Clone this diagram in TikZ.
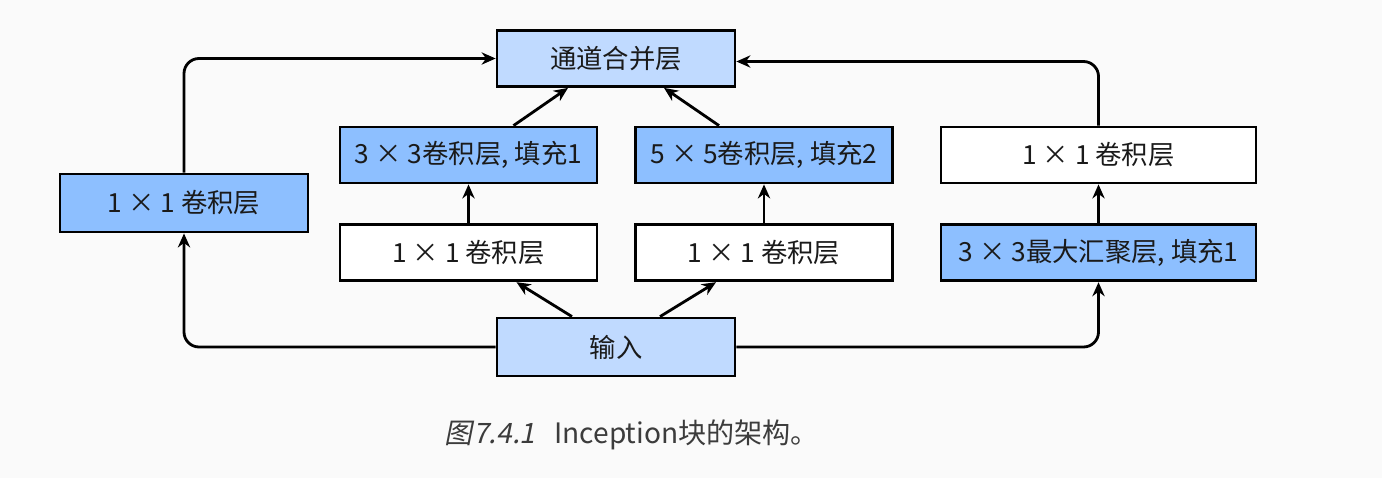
\documentclass[tikz,border=0pt]{standalone}
\usepackage{fontspec}
\setmainfont{Noto Sans CJK SC}
\newfontfamily\capit[FakeSlant=0.2]{Noto Sans CJK SC}
\usepackage{tikz}
\usetikzlibrary{arrows.meta,positioning,calc}
\definecolor{paleblue}{HTML}{C0DAFF}
\definecolor{midblue}{HTML}{8DBFFF}
\definecolor{bgwhite}{HTML}{FAFAFA}
\definecolor{inkgray}{HTML}{1A1A1A}

\begin{document}
\begin{tikzpicture}[x=0.02cm, y=0.02cm, node distance=0.8cm,
  box/.style={rectangle, draw=black, line width=1.6pt, minimum height=1.12cm, align=center, font=\fontsize{15}{17}\selectfont, text=inkgray},
  catbox/.style={box, fill=paleblue, minimum width=4.76cm},
  convbox/.style={box, fill=midblue, minimum width=5.14cm},
  plainbox/.style={box, fill=white, minimum width=5.14cm},
  arrow/.style={-{Stealth[length=8pt,width=7pt]}, line width=1.6pt, rounded corners=0.3cm}]
\fill[bgwhite] (0,0) rectangle (1382,478);
\useasboundingbox (0,0) rectangle (1382,478);
\node[catbox] (concat) at (616,419.5) {通道合并层};
\node[convbox] (conv3) at (468.5,323) {3 × 3卷积层, 填充1};
\node[convbox] (conv5) at (764,323) {5 × 5卷积层, 填充2};
\node[plainbox, minimum width=6.3cm] (conv1r) at (1098.5,323) {1 × 1 卷积层};
\node[convbox, minimum width=4.96cm, minimum height=1.16cm] (conv1l) at (184,275) {1 × 1 卷积层};
\node[plainbox, below=0.78cm of conv3] (red3) {1 × 1 卷积层};
\node[plainbox, below=0.78cm of conv5] (red5) {1 × 1 卷积层};
\node[convbox, minimum width=6.3cm, below=0.78cm of conv1r] (pool) {3 × 3最大汇聚层, 填充1};
\node[catbox, minimum height=1.16cm] (input) at (616,131) {输入};
% left and right paths
\draw[arrow] (input.west) -| (conv1l.south);
\draw[arrow] (conv1l.north) |- (concat.west);
\draw[arrow] (input.east) -| (pool.south);
\draw[arrow] (pool.north) -- (conv1r.south);
\draw[arrow] (conv1r.north) |- ($(concat.east)+(0,-3)$);
% middle paths
\draw[arrow] ($(input.north)+(-44,0)$) -- ($(red3.south)+(48,0)$);
\draw[arrow] ($(input.north)+(44,0)$) -- ($(red5.south)+(-48,0)$);
\draw[arrow] (red3.north) -- (conv3.south);
\draw[arrow] (red5.north) -- (conv5.south);
\draw[arrow] ($(conv3.north)+(45,0)$) -- ($(concat.south)+(-48,0)$);
\draw[arrow] ($(conv5.north)+(-45,0)$) -- ($(concat.south)+(48,0)$);
\node[font=\fontsize{16}{18}\selectfont, text=inkgray!85] (caption) at (632,43) {{\capit 图7.4.1}\ \ \ Inception块的架构。};
\end{tikzpicture}
\end{document}
